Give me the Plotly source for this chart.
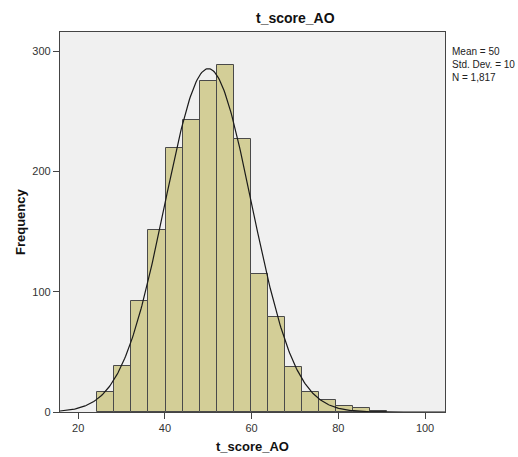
import numpy as np
import plotly.graph_objects as go

# Histogram of t_score_AO with fitted normal curve
bin_start = 24.39
bin_width = 3.937
counts = [17, 38, 92, 151, 219, 243, 275, 288, 227, 115, 79, 37, 17, 10, 5, 3, 1]

mean_val = 50
sd_val = 10
n_total = 1817

x_ticks = [20, 40, 60, 80, 100]
y_ticks = [0, 100, 200, 300]

centers = [bin_start + bin_width * (i + 0.5) for i in range(len(counts))]

x_lo, x_hi = 15.8, 104.6
xs = np.linspace(x_lo, x_hi, 400)
ys = n_total * bin_width * np.exp(-0.5 * ((xs - mean_val) / sd_val) ** 2) / (sd_val * np.sqrt(2 * np.pi))

fig = go.Figure()
fig.add_trace(go.Bar(
    x=centers, y=counts, width=bin_width,
    marker=dict(color="#D3CE97", line=dict(color="#4a4a4a", width=1)),
    hoverinfo="x+y",
))
fig.add_trace(go.Scatter(
    x=xs, y=ys, mode="lines",
    line=dict(color="#1a1a1a", width=1.2),
    hoverinfo="skip",
))

PL, PR, PT, PB = 60, 73, 32, 45
W, H = 518, 457
pw, ph = W - PL - PR, H - PT - PB

fig.update_layout(
    width=W, height=H,
    margin=dict(l=PL, r=PR, t=PT, b=PB, autoexpand=False),
    paper_bgcolor="white",
    plot_bgcolor="#F0F0F0",
    showlegend=False,
    bargap=0,
    font=dict(family="Liberation Sans, Arial, sans-serif", color="#222"),
)

fig.update_xaxes(
    range=[x_lo, x_hi], tickvals=x_ticks, ticktext=[str(v) for v in x_ticks],
    showgrid=False, zeroline=False, automargin=False,
    showline=True, linecolor="#444", linewidth=1.2, mirror=True,
    ticks="outside", ticklen=6, tickcolor="#444", tickwidth=1,
    tickfont=dict(size=11, color="#333"),
)
fig.update_yaxes(
    range=[0, 315.8], tickvals=y_ticks, ticktext=[str(v) for v in y_ticks],
    showgrid=False, zeroline=False, automargin=False,
    showline=True, linecolor="#444", linewidth=1.2, mirror=True,
    ticks="outside", ticklen=6, tickcolor="#444", tickwidth=1,
    tickfont=dict(size=11, color="#333"),
)

# Chart title, axis titles and summary statistics
fig.add_annotation(
    text="<b>t_score_AO</b>", xref="paper", yref="paper",
    x=(295 - PL) / pw, y=1, yshift=4, xanchor="center", yanchor="bottom",
    showarrow=False, font=dict(size=14, color="#111"),
)
fig.add_annotation(
    text="<b>t_score_AO</b>", xref="paper", yref="paper",
    x=0.5, y=0, yshift=-(446 - (H - PB)), xanchor="center", yanchor="middle",
    showarrow=False, font=dict(size=13, color="#111"),
)
fig.add_annotation(
    text="<b>Frequency</b>", xref="paper", yref="paper",
    x=0, xshift=-(PL - 20), y=0.5, xanchor="center", yanchor="middle",
    textangle=-90, showarrow=False, font=dict(size=13, color="#111"),
)
fig.add_annotation(
    text=f"Mean = {mean_val}<br>Std. Dev. = {sd_val}<br>N = {n_total:,}",
    xref="paper", yref="paper", x=1, xshift=5, y=1, yshift=-12,
    xanchor="left", yanchor="top", align="left", showarrow=False,
    font=dict(size=10, color="#222"),
)

fig.write_html("out.html")
